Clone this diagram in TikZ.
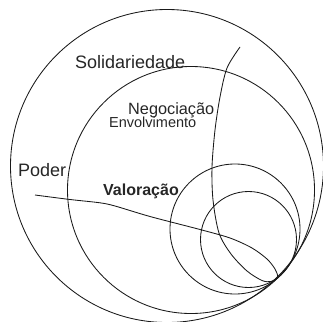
\documentclass[tikz,border=0pt]{standalone}
\usepackage{fontspec}
\setmainfont{Liberation Sans}
\begin{document}
\begin{tikzpicture}[x=1pt,y=-1pt,
  curve/.style={line width=0.85pt, black!90},
  lbl/.style={anchor=base west, inner sep=0pt, text=black!85}]
\useasboundingbox (0,0) rectangle (323,321);
\begin{scope}
\clip (0,0) rectangle (323,321);
\draw[curve] (167,166) circle[radius=156.5pt];
\draw[curve] (191,190) circle[radius=123.5pt];
\draw[curve] (235,229) circle[radius=65pt];
\draw[curve] (248.5,239.5) circle[radius=48pt];
\draw[curve] plot[smooth, tension=0.5] coordinates {
  (35,195) (70,199.5) (100,202.8) (115,206) (150,216.5) (200,229.5)
  (230,238) (252,248) (267,259) (275,269) (277.5,277)
  (271,281.5) (262,280.5) (247,271) (231,254) (219,233) (213,200)
  (212,167) (215,130) (220,97) (227,68) (240,47)};
\end{scope}
\node[lbl, font=\fontsize{18}{18}\selectfont] (sol) at (75,68) {Solidariedade};
\node[lbl, font=\fontsize{16.3}{16}\selectfont] (neg) at (128,114) {Negociação};
\node[lbl, font=\fontsize{14.5}{14}\selectfont] (env) at (109,127.5) {Envolvimento};
\node[lbl, font=\fontsize{18}{18}\selectfont] (pod) at (18,176.5) {Poder};
\node[lbl, font=\fontsize{16}{16}\selectfont\bfseries] (val) at (103,195.5) {Valoração};
\end{tikzpicture}
\end{document}
